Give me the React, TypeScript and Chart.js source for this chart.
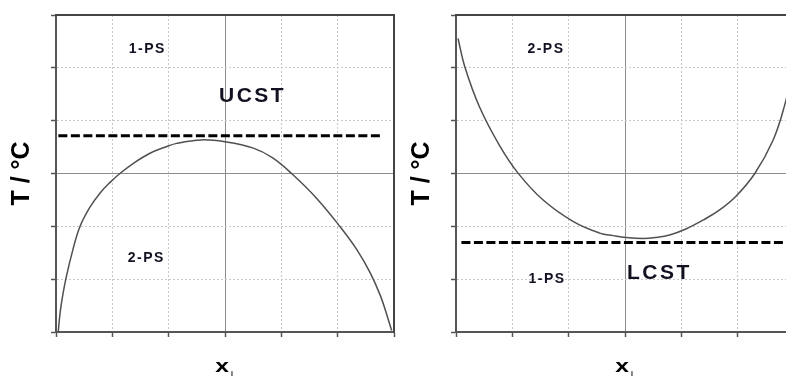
import { useEffect, useRef } from "react";
import { Chart, registerables } from "chart.js";

Chart.register(...registerables);

// Normalised axes: mole fraction x_i (0..1) and temperature (0..1, unlabelled)
const GRID_STEPS = [0, 1 / 6, 2 / 6, 3 / 6, 4 / 6, 5 / 6, 1];

// Upper critical solution temperature: binodal curve
const ucstX = [0.006, 0.01, 0.016, 0.029, 0.05, 0.071, 0.1, 0.13, 0.16, 0.189, 0.23, 0.278, 0.32, 0.357, 0.43, 0.5, 0.584, 0.64, 0.697, 0.77, 0.84, 0.89, 0.93, 0.96, 0.98, 0.993];
const ucstT = [-0.01, 0.04, 0.09, 0.167, 0.26, 0.333, 0.393, 0.438, 0.472, 0.5, 0.533, 0.564, 0.582, 0.595, 0.606, 0.6, 0.58, 0.55, 0.5, 0.423, 0.333, 0.26, 0.186, 0.114, 0.05, 0.005];
const ucstLevel = 0.619;
const ucstLineSpan = [0.007, 0.964];

// Lower critical solution temperature: binodal curve
const lcstX = [0.006, 0.026, 0.07, 0.129, 0.183, 0.257, 0.346, 0.425, 0.465, 0.504, 0.553, 0.59, 0.632, 0.68, 0.731, 0.78, 0.829, 0.884, 0.938, 0.972, 1.0];
const lcstT = [0.926, 0.837, 0.709, 0.588, 0.502, 0.417, 0.349, 0.312, 0.304, 0.298, 0.295, 0.298, 0.306, 0.325, 0.353, 0.385, 0.429, 0.5, 0.605, 0.714, 0.84];
const lcstLevel = 0.282;
const lcstLineSpan = [0.016, 1.0];

// Region labels: text, x, T, font size, letter spacing
const ucstLabels: [string, number, number, number, number][] = [
  ["1-PS", 0.268, 0.891, 14, 1.5],
  ["UCST", 0.578, 0.744, 21, 2.5],
  ["2-PS", 0.265, 0.232, 14, 1.5],
];
const lcstLabels: [string, number, number, number, number][] = [
  ["2-PS", 0.264, 0.892, 14, 1.5],
  ["1-PS", 0.267, 0.166, 14, 1.5],
  ["LCST", 0.598, 0.185, 21, 2.5],
];

const FONT = '"Liberation Sans", Arial, sans-serif';
const AXIS_DARK = "#555555";

function isMajor(v: number) {
  return Math.abs(v - 0.5) < 1e-6;
}

function makeLabelPlugin(labels: [string, number, number, number, number][]) {
  return {
    id: "phaseLabels",
    afterDraw(chart: any) {
      const { ctx, chartArea, scales } = chart;
      const xs = scales.x;
      const ys = scales.y;
      ctx.save();
      ctx.fillStyle = "#111122";
      ctx.textAlign = "center";
      ctx.textBaseline = "middle";
      for (const [text, x, t, size, spacing] of labels) {
        ctx.font = `bold ${size}px ${FONT}`;
        (ctx as any).letterSpacing = `${spacing}px`;
        ctx.fillText(text, xs.getPixelForValue(x) + spacing / 2, ys.getPixelForValue(t));
      }
      (ctx as any).letterSpacing = "0px";

      // y axis title
      ctx.fillStyle = "#000";
      ctx.save();
      ctx.translate(chartArea.left - 34, (chartArea.top + chartArea.bottom) / 2);
      ctx.rotate(-Math.PI / 2);
      ctx.font = `bold 25px ${FONT}`;
      ctx.fillText("T / °C", 0, 0);
      ctx.restore();

      // x axis title with subscript
      const cx = xs.getPixelForValue(0.5);
      ctx.save();
      ctx.translate(cx - 3, chartArea.bottom + 35);
      ctx.scale(1.3, 1);
      ctx.font = `bold 19px ${FONT}`;
      ctx.textBaseline = "alphabetic";
      ctx.fillText("x", 0, 5);
      ctx.restore();
      ctx.font = `bold 7px ${FONT}`;
      ctx.textAlign = "left";
      ctx.textBaseline = "alphabetic";
      ctx.fillText("i", cx + 6, chartArea.bottom + 44);
      ctx.restore();
    },
  };
}

function buildConfig(
  xs: number[],
  ts: number[],
  level: number,
  span: number[],
  labels: [string, number, number, number, number][]
): any {
  const setTicks = (s: any) => {
    s.ticks = GRID_STEPS.map((v) => ({ value: v }));
  };
  const gridScale = (position: string) => ({
    type: "linear",
    position,
    min: 0,
    max: 1,
    afterBuildTicks: setTicks,
    ticks: { display: false },
    grid: {
      color: (c: any) => (c.tick && isMajor(c.tick.value) ? "#8c8c8c" : "#c8c8c8"),
      lineWidth: 1,
      tickLength: 5,
      tickColor: AXIS_DARK,
      tickWidth: 1.5,
    },
    border: {
      color: AXIS_DARK,
      width: 2,
      dash: (c: any) => (c.tick && isMajor(c.tick.value) ? [] : [2, 2]),
    },
  });
  const frameScale = (position: string, axis: string) => ({
    type: "linear",
    axis,
    position,
    min: 0,
    max: 1,
    display: true,
    ticks: { display: false },
    grid: { display: false, drawTicks: false, tickLength: 0 },
    border: { color: "#444444", width: 2 },
  });

  return {
    type: "line",
    data: {
      datasets: [
        {
          data: xs.map((x, i) => ({ x, y: ts[i] })),
          borderColor: "#505050",
          borderWidth: 1.5,
          pointRadius: 0,
          tension: 0.4,
          fill: false,
        },
        {
          data: span.map((x) => ({ x, y: level })),
          borderColor: "#000000",
          borderWidth: 3,
          borderDash: [9, 3.5],
          pointRadius: 0,
          fill: false,
        },
      ],
    },
    options: {
      responsive: false,
      animation: false,
      events: [],
      layout: { padding: { left: 51, top: 15, right: 6, bottom: 41 } },
      plugins: { legend: { display: false }, tooltip: { enabled: false } },
      scales: {
        x: gridScale("bottom"),
        y: gridScale("left"),
        xTop: frameScale("top", "x"),
        yRight: frameScale("right", "y"),
      },
    },
    plugins: [makeLabelPlugin(labels)],
  };
}

function PhasePanel(props: {
  xs: number[];
  ts: number[];
  level: number;
  span: number[];
  labels: [string, number, number, number, number][];
  left: number;
}) {
  const ref = useRef<HTMLCanvasElement>(null);
  useEffect(() => {
    if (!ref.current) return;
    const chart = new Chart(
      ref.current,
      buildConfig(props.xs, props.ts, props.level, props.span, props.labels)
    );
    return () => chart.destroy();
  }, []);
  return (
    <canvas
      ref={ref}
      width={400}
      height={378}
      style={{ position: "absolute", left: props.left, top: 0, width: 400, height: 378 }}
    />
  );
}

export default function App() {
  return (
    <div
      style={{
        position: "fixed",
        left: 0,
        top: 0,
        width: 786,
        height: 378,
        overflow: "hidden",
        background: "#ffffff",
      }}
    >
      <PhasePanel xs={ucstX} ts={ucstT} level={ucstLevel} span={ucstLineSpan} labels={ucstLabels} left={0} />
      <PhasePanel xs={lcstX} ts={lcstT} level={lcstLevel} span={lcstLineSpan} labels={lcstLabels} left={400} />
    </div>
  );
}
